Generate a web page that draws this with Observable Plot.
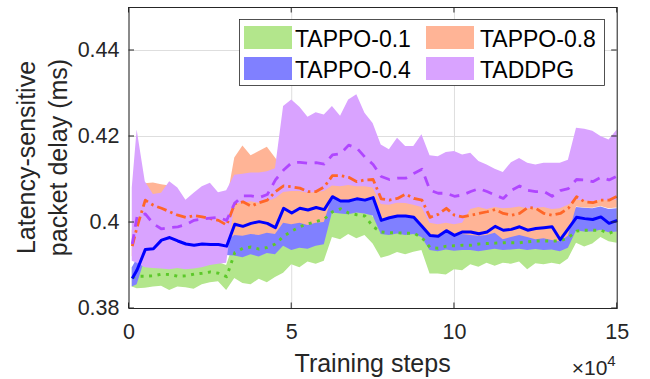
<!DOCTYPE html>
<html><head><meta charset="utf-8">
<script src="https://cdn.jsdelivr.net/npm/d3@7"></script>
<script src="https://cdn.jsdelivr.net/npm/@observablehq/plot@0.6"></script>
<style>body{margin:0;background:#fff;} svg{display:block;}</style>
</head><body><div id="chart"></div>
<script>
// Training steps (x axis shown in units of 10^4)
const steps = [1000, ...d3.range(2500, 150001, 2500)];
const xTicks = [0, 5, 10, 15];
const xTickLabels = ["0", "5", "10", "15"];
const yTicks = [0.38, 0.40, 0.42, 0.44];
const yTickLabels = ["0.38", "0.4", "0.42", "0.44"];
const seriesNames = ["TAPPO-0.1", "TAPPO-0.4", "TAPPO-0.8", "TADDPG"];

const tappo01Mean = [0.3872,
 0.3875,0.3875,0.3876,0.3880,0.3879,0.3875,0.3876,0.3880,0.3882,0.3885,0.3882,0.3874,
 0.3930,0.3940,0.3943,0.3938,0.3942,0.3950,0.3968,0.3980,0.3990,0.3997,0.4002,0.4008,
 0.4025,0.4032,0.4022,0.4018,0.4015,0.3990,0.3978,0.3976,0.3976,0.3975,0.3975,0.3965,
 0.3942,0.3940,0.3945,0.3946,0.3947,0.3947,0.3950,0.3951,0.3952,0.3953,0.3953,0.3953,
 0.3955,0.3957,0.3957,0.3957,0.3957,0.3965,0.3980,0.3982,0.3982,0.3982,0.3975,0.3982];
const tappo01Lo = [0.3850,
 0.3846,0.3847,0.3850,0.3852,0.3842,0.3850,0.3848,0.3845,0.3855,0.3860,0.3862,0.3842,
 0.3870,0.3858,0.3855,0.3868,0.3860,0.3872,0.3882,0.3902,0.3895,0.3908,0.3903,0.3910,
 0.3965,0.3960,0.3972,0.3962,0.3970,0.3950,0.3917,0.3922,0.3930,0.3925,0.3931,0.3935,
 0.3880,0.3880,0.3878,0.3890,0.3888,0.3902,0.3896,0.3905,0.3898,0.3905,0.3903,0.3908,
 0.3890,0.3904,0.3902,0.3905,0.3902,0.3915,0.3952,0.3943,0.3950,0.3965,0.3955,0.3952];
const tappo01Hi = [0.3895,
 0.3900,0.3900,0.3900,0.3905,0.3904,0.3900,0.3900,0.3905,0.3907,0.3910,0.3907,0.3900,
 0.3955,0.3965,0.3968,0.3963,0.3967,0.3975,0.3993,0.4005,0.4015,0.4022,0.4027,0.4033,
 0.4048,0.4055,0.4045,0.4040,0.4038,0.4013,0.4000,0.3998,0.3998,0.3997,0.3997,0.3988,
 0.3965,0.3963,0.3968,0.3969,0.3970,0.3970,0.3973,0.3974,0.3975,0.3976,0.3976,0.3976,
 0.3978,0.3980,0.3980,0.3980,0.3980,0.3988,0.4003,0.4005,0.4005,0.4005,0.3998,0.4005];

const tappo04Mean = [0.3870,
 0.3890,0.3937,0.3939,0.3959,0.3965,0.3957,0.3950,0.3947,0.3950,0.3949,0.3949,0.3945,
 0.3996,0.3991,0.3998,0.4002,0.3998,0.3988,0.4033,0.4022,0.4033,0.4029,0.4035,0.4030,
 0.4060,0.4050,0.4050,0.4055,0.4052,0.4058,0.4005,0.4011,0.4015,0.4015,0.4012,0.3991,
 0.3970,0.3968,0.3981,0.3970,0.3978,0.3978,0.3974,0.3978,0.3991,0.3982,0.3984,0.3990,
 0.3982,0.3986,0.3988,0.3990,0.3960,0.3986,0.4012,0.4009,0.4007,0.4013,0.3998,0.4005];
const tappo04Lo = [0.3850,
 0.3855,0.3915,0.3918,0.3937,0.3943,0.3935,0.3928,0.3925,0.3928,0.3927,0.3927,0.3923,
 0.3922,0.3918,0.3925,0.3920,0.3928,0.3925,0.3945,0.3935,0.3940,0.3938,0.3945,0.3948,
 0.4022,0.4020,0.4018,0.4022,0.4020,0.4015,0.3972,0.3970,0.3973,0.3970,0.3972,0.3965,
 0.3935,0.3932,0.3936,0.3933,0.3935,0.3935,0.3932,0.3935,0.3938,0.3935,0.3936,0.3938,
 0.3935,0.3937,0.3935,0.3936,0.3932,0.3940,0.3980,0.3978,0.3978,0.3982,0.3976,0.3978];
const tappo04Hi = [0.3895,
 0.3915,0.3958,0.3960,0.3980,0.3986,0.3978,0.3972,0.3968,0.3972,0.3970,0.3970,0.3966,
 0.4018,0.4013,0.4020,0.4024,0.4020,0.4010,0.4055,0.4045,0.4055,0.4052,0.4057,0.4052,
 0.4082,0.4072,0.4072,0.4077,0.4075,0.4080,0.4028,0.4033,0.4037,0.4037,0.4034,0.4013,
 0.3992,0.3990,0.4003,0.3992,0.4000,0.4000,0.3996,0.4000,0.4013,0.4004,0.4006,0.4012,
 0.4004,0.4008,0.4010,0.4012,0.3982,0.4008,0.4035,0.4033,0.4032,0.4036,0.4030,0.4032];

const tappo08Mean = [0.3945,
 0.3990,0.4052,0.4040,0.4033,0.4025,0.4017,0.4012,0.4016,0.4013,0.4009,0.4005,0.3994,
 0.4044,0.4048,0.4038,0.4046,0.4052,0.4072,0.4085,0.4083,0.4080,0.4072,0.4072,0.4083,
 0.4109,0.4109,0.4105,0.4095,0.4099,0.4100,0.4055,0.4052,0.4056,0.4066,0.4056,0.4052,
 0.4012,0.4019,0.4033,0.4017,0.4013,0.4017,0.4021,0.4025,0.4030,0.4021,0.4017,0.4021,
 0.4035,0.4033,0.4021,0.4017,0.4021,0.4033,0.4060,0.4048,0.4046,0.4052,0.4052,0.4061];
const tappo08Lo = [0.3920,
 0.3955,0.4010,0.4000,0.3995,0.3985,0.3978,0.3972,0.3975,0.3972,0.3970,0.3966,0.3956,
 0.3970,0.3968,0.3972,0.3970,0.3975,0.3972,0.3998,0.3995,0.3998,0.3993,0.3998,0.4000,
 0.4058,0.4048,0.4048,0.4053,0.4050,0.4055,0.4003,0.4009,0.4013,0.4013,0.4010,0.3990,
 0.3968,0.3966,0.3978,0.3968,0.3972,0.3970,0.3968,0.3970,0.3975,0.3960,0.3965,0.3970,
 0.3965,0.3960,0.3962,0.3958,0.3955,0.3968,0.4036,0.4034,0.4033,0.4037,0.4032,0.4034];
const tappo08Hi = [0.3980,
 0.4060,0.4090,0.4092,0.4088,0.4085,0.4070,0.4050,0.4055,0.4050,0.4050,0.4050,0.4045,
 0.4150,0.4178,0.4155,0.4165,0.4175,0.4150,0.4125,0.4122,0.4120,0.4112,0.4112,0.4122,
 0.4150,0.4150,0.4145,0.4135,0.4140,0.4140,0.4095,0.4092,0.4096,0.4105,0.4096,0.4092,
 0.4052,0.4060,0.4073,0.4057,0.4053,0.4057,0.4062,0.4065,0.4070,0.4062,0.4057,0.4062,
 0.4075,0.4073,0.4062,0.4057,0.4062,0.4073,0.4100,0.4090,0.4088,0.4092,0.4092,0.4100];

const taddpgMean = [0.3950,
 0.4015,0.4020,0.3997,0.3985,0.3988,0.3990,0.3995,0.4005,0.4008,0.4010,0.4012,0.4005,
 0.4045,0.4062,0.4062,0.4058,0.4065,0.4099,0.4122,0.4139,0.4140,0.4138,0.4139,0.4136,
 0.4157,0.4160,0.4180,0.4173,0.4152,0.4135,0.4107,0.4100,0.4103,0.4103,0.4114,0.4124,
 0.4075,0.4068,0.4068,0.4061,0.4064,0.4072,0.4079,0.4072,0.4064,0.4056,0.4075,0.4085,
 0.4075,0.4072,0.4072,0.4061,0.4074,0.4079,0.4100,0.4099,0.4095,0.4105,0.4099,0.4108];
const taddpgLo = [0.3910,
 0.3905,0.3895,0.3893,0.3892,0.3890,0.3893,0.3890,0.3892,0.3895,0.3900,0.3903,0.3905,
 0.4042,0.4045,0.4048,0.4045,0.4048,0.4055,0.4070,0.4072,0.4072,0.4068,0.4070,0.4072,
 0.4085,0.4083,0.4086,0.4083,0.4083,0.4080,0.4042,0.4040,0.4045,0.4044,0.4040,0.4035,
 0.3998,0.3995,0.3998,0.3995,0.3998,0.4030,0.4035,0.4030,0.4035,0.4032,0.4033,0.4036,
 0.4032,0.4033,0.4035,0.4030,0.4032,0.4040,0.4052,0.4050,0.4048,0.4052,0.4050,0.4052];
const taddpgHi = [0.4080,
 0.4215,0.4095,0.4065,0.4068,0.4095,0.4080,0.4052,0.4068,0.4083,0.4091,0.4069,0.4074,
 0.4110,0.4112,0.4115,0.4115,0.4118,0.4125,0.4270,0.4285,0.4268,0.4245,0.4255,0.4250,
 0.4270,0.4247,0.4285,0.4297,0.4254,0.4230,0.4180,0.4169,0.4196,0.4177,0.4177,0.4204,
 0.4155,0.4153,0.4163,0.4165,0.4157,0.4161,0.4142,0.4134,0.4124,0.4116,0.4139,0.4149,
 0.4138,0.4134,0.4138,0.4138,0.4138,0.4145,0.4219,0.4217,0.4212,0.4200,0.4192,0.4215];

const FONT = '"Liberation Sans", Arial, Helvetica, sans-serif';
const series = [
  {name: seriesNames[0], mean: tappo01Mean, lo: tappo01Lo, hi: tappo01Hi, fill: "#b3e68c", stroke: "#5cc82a", dash: "3,5.5", w: 2.9},
  {name: seriesNames[1], mean: tappo04Mean, lo: tappo04Lo, hi: tappo04Hi, fill: "#8080ff", stroke: "#0000ff", dash: null, w: 3},
  {name: seriesNames[2], mean: tappo08Mean, lo: tappo08Lo, hi: tappo08Hi, fill: "#ffb496", stroke: "#ff6628", dash: "10,4,2.5,4", w: 2.8},
  {name: seriesNames[3], mean: taddpgMean, lo: taddpgLo, hi: taddpgHi, fill: "#d9a3ff", stroke: "#b046ff", dash: "10,7.5", w: 2.8}
];
series.forEach(s => {
  s.rows = steps.map((st, i) => ({t: st / 1e4, mean: s.mean[i], lo: s.lo[i], hi: s.hi[i]}));
});

const marks = [
  Plot.gridX(xTicks, {stroke: "#dedede", strokeOpacity: 1, strokeWidth: 1}),
  Plot.gridY(yTicks, {stroke: "#dedede", strokeOpacity: 1, strokeWidth: 1})
];
for (const s of series) {
  marks.push(Plot.areaY(s.rows, {x: "t", y1: "lo", y2: "hi", fill: s.fill, fillOpacity: 1}));
}
for (const s of series) {
  marks.push(Plot.lineY(s.rows, {x: "t", y: "mean", stroke: s.stroke, strokeWidth: s.w,
    strokeDasharray: s.dash, strokeLinecap: "butt", strokeLinejoin: "round"}));
}
marks.push(
  Plot.axisX(xTicks, {tickSize: 0, tickPadding: 15, fontSize: 21.5, fill: "#262626",
    tickFormat: d => xTickLabels[xTicks.indexOf(d)], label: null}),
  Plot.axisY(yTicks, {tickSize: 0, tickPadding: 9.5, fontSize: 21.5, fill: "#262626",
    tickFormat: d => yTickLabels[yTicks.indexOf(d)], label: null}),
  Plot.frame({stroke: "#262626", strokeWidth: 1})
);

const chart = Plot.plot({
  width: 650, height: 379,
  marginLeft: 128.5, marginRight: 33.3, marginTop: 7, marginBottom: 71,
  x: {domain: [0, 15]},
  y: {domain: [0.38, 0.45]},
  style: {fontFamily: FONT, fontSize: "21.5px", background: "#fff", color: "#262626"},
  marks
});
document.getElementById("chart").appendChild(chart);

const sx = chart.scale("x"), sy = chart.scale("y");
const svg = d3.select(chart);
const xL = sx.apply(0), xR = sx.apply(15), yB = sy.apply(0.38), yT = sy.apply(0.45);
const tk = svg.append("g").attr("stroke", "#262626").attr("stroke-width", 1);
const TL = 5.5;
xTicks.forEach(v => {
  const x = sx.apply(v);
  tk.append("line").attr("x1", x).attr("x2", x).attr("y1", yB).attr("y2", yB - TL);
  tk.append("line").attr("x1", x).attr("x2", x).attr("y1", yT).attr("y2", yT + TL);
});
yTicks.forEach(v => {
  const y = sy.apply(v);
  tk.append("line").attr("x1", xL).attr("x2", xL + TL).attr("y1", y).attr("y2", y);
  tk.append("line").attr("x1", xR).attr("x2", xR - TL).attr("y1", y).attr("y2", y);
});

// axis labels
const lab = svg.append("g").attr("font-family", FONT).attr("fill", "#262626");
lab.append("text").attr("x", (xL + xR) / 2).attr("y", 371.5).attr("text-anchor", "middle")
  .attr("font-size", 25).text("Training steps");
const yc = (yB + yT) / 2;
lab.append("text").attr("transform", `translate(35,${yc}) rotate(-90)`).attr("text-anchor", "middle")
  .attr("font-size", 25).text("Latency-sensitive");
lab.append("text").attr("transform", `translate(67,${yc}) rotate(-90)`).attr("text-anchor", "middle")
  .attr("font-size", 25).text("packet delay (ms)");
const mult = lab.append("text").attr("x", xR - 1).attr("y", 375).attr("text-anchor", "end").attr("font-size", 21);
mult.append("tspan").text("\u00d710");
mult.append("tspan").attr("font-size", 15).attr("dy", -9).text("4");

// legend
const lg = svg.append("g").attr("font-family", FONT).attr("text-anchor", "start");
lg.append("rect").attr("x", 239.5).attr("y", 19.5).attr("width", 365).attr("height", 66)
  .attr("fill", "#fff").attr("stroke", "#262626").attr("stroke-width", 0.8);
const pos = [[244, 26, 295, 46.5], [244, 57, 295, 77.5], [426, 26, 480, 46.5], [426, 57, 480, 77.5]];
series.forEach((s, i) => {
  const [px, py, tx, ty] = pos[i];
  lg.append("rect").attr("x", px).attr("y", py).attr("width", 48).attr("height", 23).attr("fill", s.fill);
  lg.append("text").attr("x", tx).attr("y", ty).attr("text-anchor", "start").attr("font-size", 23)
    .attr("fill", "#000").text(s.name);
});
</script>
</body></html>
